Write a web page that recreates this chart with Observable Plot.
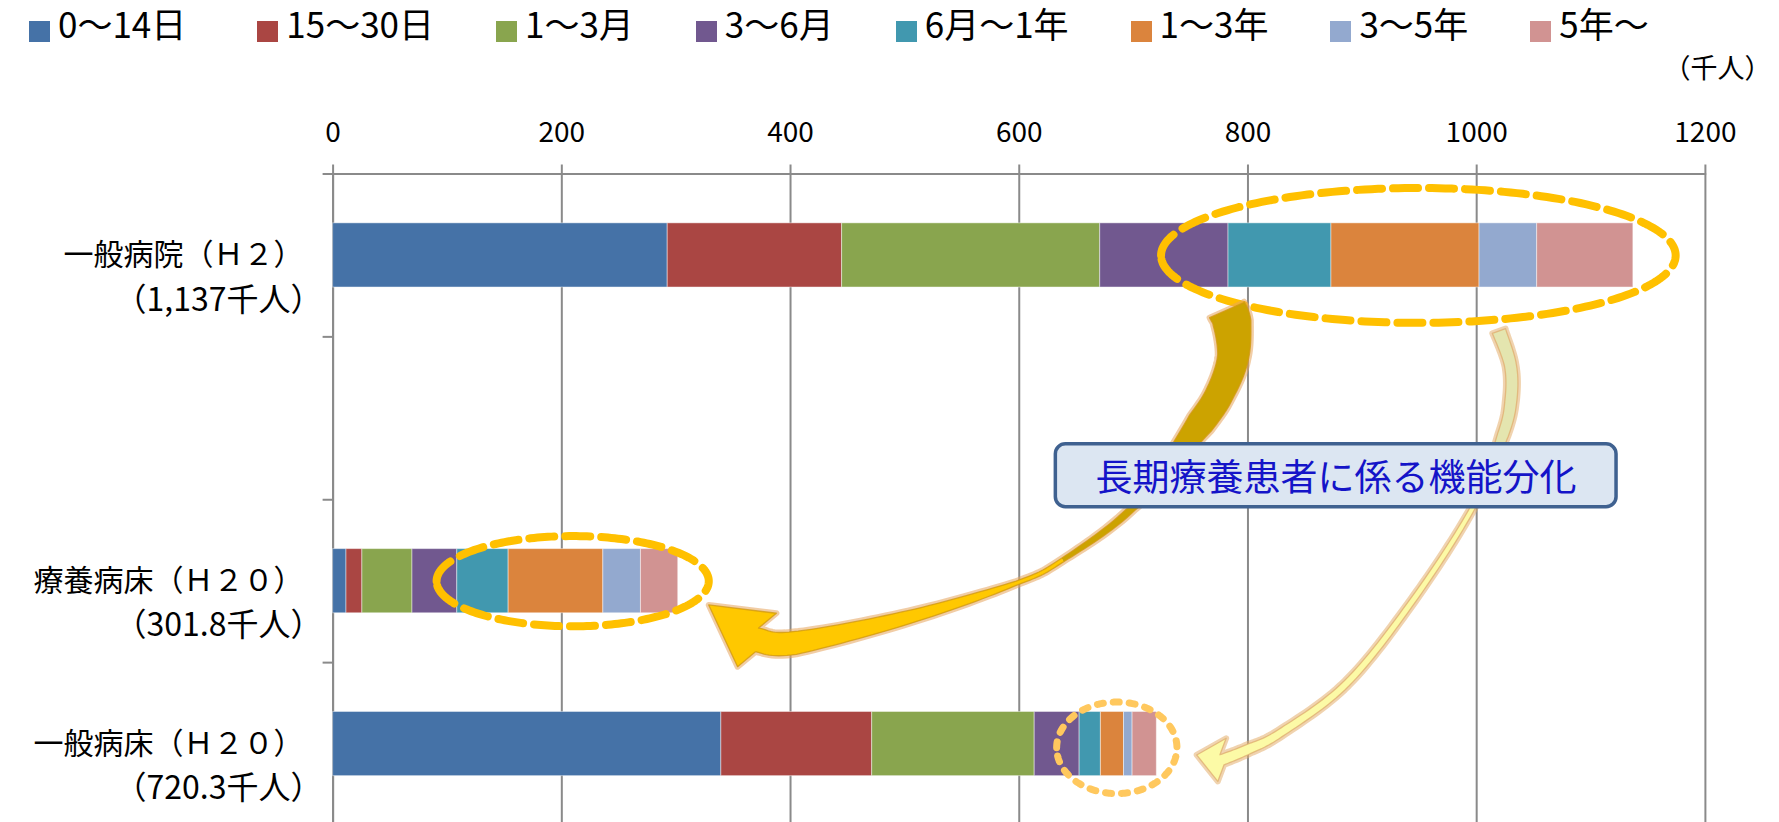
<!DOCTYPE html>
<html>
<head>
<meta charset="utf-8">
<script src="https://cdn.jsdelivr.net/npm/d3@7"></script>
<script src="https://cdn.jsdelivr.net/npm/@observablehq/plot@0.6"></script>
<style>
html, body { margin: 0; padding: 0; background: #fff; overflow: hidden; }
#legend { height: 35px; padding: 5px 0 0 29px; font-family: 'Noto Sans CJK JP', 'Noto Sans', sans-serif; font-size: 35px; line-height: 35px; white-space: nowrap; color: #000; }
.item { display: inline-block; margin-right: 62px; }
.item:first-child { margin-right: 71px; }
.sw { display: inline-block; width: 21px; height: 21px; vertical-align: -4px; margin-right: 8px; }
#chart svg { display: block; }
</style>
</head>
<body>
<div id="legend"></div>
<div id="chart"></div>
<script>
// ---------------- data ----------------
const categories = ["一般病院（Ｈ２）", "", "療養病床（Ｈ２０）", "一般病床（Ｈ２０）"];
const categoryTotals = ["（1,137千人）", "", "（301.8千人）", "（720.3千人）"];
const periods = ["0～14日", "15～30日", "1～3月", "3～6月", "6月～1年", "1～3年", "3～5年", "5年～"];
const periodColors = ["#4572A7", "#AA4643", "#89A54E", "#71588F", "#4198AF", "#DB843D", "#93A9CF", "#D19392"];
const ippanByoin_H2 = [292.6, 152.5, 225.7, 112.2, 90.0, 129.5, 50.4, 84.1];
const ryoyoByosho_H20 = [11.7, 13.9, 43.8, 39.2, 44.9, 82.8, 32.9, 32.6];
const ippanByosho_H20 = [339.5, 131.9, 142.1, 39.3, 18.6, 20.2, 7.5, 21.2];
const xTicks = [0, 200, 400, 600, 800, 1000, 1200];
const unitLabel = "（千人）";
const calloutText = "長期療養患者に係る機能分化";

// ---------------- annotations (data units: x = 千人, y = category index) ----------------
const highlightEllipses = [
  {cx: 949, rx: 225, cy: 0, ry: 0.414, kind: "dash"},
  {cx: 209.5, rx: 119, cy: 2, ry: 0.277, kind: "dash"},
  {cx: 685.3, rx: 52.6, cy: 3.023, ry: 0.281, kind: "dot"}
];
const callout = {x1: 632, x2: 1122.3, y1: 1.16, y2: 1.546, tx: 877, ty: 1.372};
const bigArrow = {
  points: [[782.1, 0.338], [786.5, 0.418], [787.4, 0.626], [777.3, 0.829], [758.9, 1.032], [700.3, 1.547],
           [638.4, 1.873], [598.3, 2.014], [504.5, 2.2225], [404.2, 2.382], [371.1, 2.364]],
  widths: [38, 38, 31, 28, 27, 7, 4, 4, 13, 23, 24],
  tip: [328.9, 2.149], headHalf: 33, split: 6,
  colorA: "#CCA300", colorB: "#FFC800", glow: "#E6A45C", edge: "#D29A10"
};
const paleArrow = {
  points: [[1019.9, 0.467], [1030.0, 0.680], [1030.4, 0.890], [1023.4, 1.105], [997.5, 1.545], [945.0, 2.118],
           [886.8, 2.630], [828.4, 2.937], [799.3, 3.039], [777.7, 3.100]],
  widths: [14, 12, 12, 11, 5, 6, 7, 8, 10, 11],
  tip: [755.6, 3.070], headHalf: 22, split: 4,
  colorA: "#E4E5AF", colorB: "#FCFAA6", glow: "#E4AE6E", edge: "#E0B070"
};

// ---------------- legend ----------------
const legend = document.getElementById("legend");
periods.forEach((p, i) => {
  const item = document.createElement("span");
  item.className = "item";
  const sw = document.createElement("span");
  sw.className = "sw";
  sw.style.background = periodColors[i];
  item.appendChild(sw);
  item.appendChild(document.createTextNode(p));
  legend.appendChild(item);
});

// ---------------- rows ----------------
const seriesByCategory = [ippanByoin_H2, null, ryoyoByosho_H20, ippanByosho_H20];
const rows = [];
seriesByCategory.forEach((vals, i) => {
  if (!vals) return;
  let acc = 0;
  vals.forEach((v, j) => { rows.push({cat: i, period: periods[j], x1: acc, x2: acc + v}); acc += v; });
});

const FONT = "'Noto Sans CJK JP', 'Noto Sans', sans-serif";
const GRAY = "#8a8a8a";
const BAR_HALF = 0.197;

function ellipseMark(e) {
  const pts = d3.range(0, 241).map(k => {
    const t = Math.PI + k / 240 * 2 * Math.PI;
    return {x: e.cx + e.rx * Math.cos(t), y: e.cy + e.ry * Math.sin(t)};
  });
  return e.kind === "dash"
    ? Plot.line(pts, {x: "x", y: "y", stroke: "#FFC000", strokeWidth: 8, strokeDasharray: "25,11"})
    : Plot.line(pts, {x: "x", y: "y", stroke: "#FFC85E", strokeWidth: 7, strokeDasharray: "6,10"});
}

function arrowMark(spec) {
  return (index, scales) => {
    const X = scales.x, Y = scales.y;
    const P = spec.points.map(([x, y]) => [X(x), Y(y)]);
    const W = spec.widths;
    const n = P.length;
    const get = i => P[Math.max(0, Math.min(n - 1, i))];
    const steps = 16;
    const samples = [];
    for (let i = 0; i < n - 1; i++) {
      const p0 = get(i - 1), p1 = get(i), p2 = get(i + 1), p3 = get(i + 2);
      for (let s = 0; s < steps; s++) {
        const t = s / steps, t2 = t * t, t3 = t2 * t;
        const f = (a, b, c, d) => 0.5 * (2 * b + (-a + c) * t + (2 * a - 5 * b + 4 * c - d) * t2 + (-a + 3 * b - 3 * c + d) * t3);
        samples.push({p: [f(p0[0], p1[0], p2[0], p3[0]), f(p0[1], p1[1], p2[1], p3[1])], w: W[i] + (W[i + 1] - W[i]) * t});
      }
    }
    samples.push({p: P[n - 1], w: W[n - 1]});
    const L = [], R = [];
    samples.forEach((s, j) => {
      const a = samples[Math.max(0, j - 1)].p, b = samples[Math.min(samples.length - 1, j + 1)].p;
      let dx = b[0] - a[0], dy = b[1] - a[1];
      const len = Math.hypot(dx, dy) || 1; dx /= len; dy /= len;
      const nx = -dy, ny = dx;
      L.push([s.p[0] + nx * s.w / 2, s.p[1] + ny * s.w / 2]);
      R.push([s.p[0] - nx * s.w / 2, s.p[1] - ny * s.w / 2]);
    });
    const E = P[n - 1];
    const T = [X(spec.tip[0]), Y(spec.tip[1])];
    let ux = T[0] - E[0], uy = T[1] - E[1];
    const ul = Math.hypot(ux, uy); ux /= ul; uy /= ul;
    const hx = -uy, hy = ux;
    const bL = [E[0] + hx * spec.headHalf, E[1] + hy * spec.headHalf];
    const bR = [E[0] - hx * spec.headHalf, E[1] - hy * spec.headHalf];
    const sp = spec.split * steps;
    const outline = [...L, bL, T, bR, ...R.slice().reverse()];
    const partA = [...L.slice(0, sp + 1), ...R.slice(0, sp + 1).reverse()];
    const partB = [...L.slice(sp), bL, T, bR, ...R.slice(sp).reverse()];
    const line = d3.line();
    const g = d3.create("svg:g");
    g.append("path").attr("d", line(outline) + "Z").attr("fill", "none").attr("stroke", spec.glow)
      .attr("stroke-width", 6).attr("stroke-opacity", 0.55).attr("stroke-linejoin", "round");
    g.append("path").attr("d", line(partA) + "Z").attr("fill", spec.colorA);
    g.append("path").attr("d", line(partB) + "Z").attr("fill", spec.colorB);
    g.append("path").attr("d", line(outline) + "Z").attr("fill", "none").attr("stroke", spec.edge)
      .attr("stroke-width", 1.3).attr("stroke-opacity", 0.8).attr("stroke-linejoin", "round");
    return g.node();
  };
}

const plot = Plot.plot({
  width: 1779,
  height: 782,
  marginTop: 133.5,
  marginLeft: 332.6,
  marginRight: 74.1,
  marginBottom: 0,
  x: {domain: [0, 1200]},
  y: {domain: [-0.5, 3.4816], reverse: true},
  color: {domain: periods, range: periodColors},
  style: {fontFamily: FONT, background: "white", color: "black"},
  marks: [
    Plot.gridX(xTicks, {stroke: GRAY, strokeOpacity: 1, strokeWidth: 2}),
    Plot.ruleY([-0.5], {stroke: GRAY, strokeWidth: 2}),
    Plot.ruleX([0], {stroke: GRAY, strokeWidth: 2}),
    Plot.rect(rows, {
      x1: "x1", x2: "x2",
      y1: d => d.cat - BAR_HALF, y2: d => d.cat + BAR_HALF,
      fill: "period", stroke: "white", strokeOpacity: 0.45, strokeWidth: 1
    }),
    ...highlightEllipses.map(ellipseMark),
    arrowMark(paleArrow),
    arrowMark(bigArrow),
    Plot.rect([callout], {x1: "x1", x2: "x2", y1: "y1", y2: "y2", rx: 10, fill: "#DCE6F2", stroke: "#3F6190", strokeWidth: 3.5}),
    Plot.text([callout], {x: "tx", y: "ty", text: () => calloutText, fontSize: 37, fill: "#1414C8"}),
    Plot.axisX(xTicks, {anchor: "top", tickSize: 10, tickPadding: 22, tickFormat: d => String(d),
      fontSize: 28, stroke: GRAY, strokeWidth: 2, fill: "black", label: null}),
    Plot.axisY([-0.5, 0.5, 1.5, 2.5], {anchor: "left", tickSize: 10, tickFormat: () => "",
      stroke: GRAY, strokeWidth: 2, label: null}),
    Plot.axisY([0, 2, 3], {anchor: "left", tickSize: 0, tickPadding: 29.6, tickFormat: i => categories[i],
      fontSize: 30, fill: "black", label: null}),
    Plot.axisY([0, 2, 3], {anchor: "left", tickSize: 0, tickPadding: 10.6, dy: 45, tickFormat: i => categoryTotals[i],
      fontSize: 32, fill: "black", label: null}),
    Plot.text([unitLabel], {text: d => d, frameAnchor: "top-right", textAnchor: "end", lineAnchor: "middle",
      dx: 66, dy: -105, fontSize: 27, fill: "black"})
  ]
});
document.getElementById("chart").appendChild(plot);
</script>
</body>
</html>
